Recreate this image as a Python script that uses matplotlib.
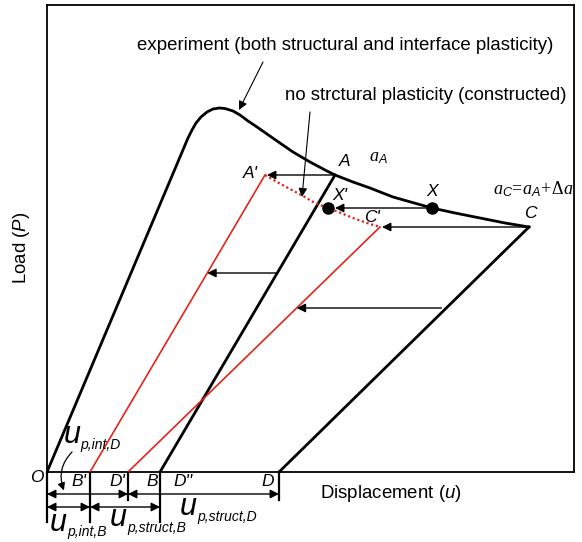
import numpy as np
import matplotlib
matplotlib.use("Agg")
import matplotlib.pyplot as plt
from matplotlib.patches import FancyArrowPatch

plt.rcParams["font.family"] = ["Liberation Sans", "DejaVu Sans"]
plt.rcParams["mathtext.fontset"] = "custom"
plt.rcParams["mathtext.rm"] = "Liberation Serif"
plt.rcParams["mathtext.it"] = "Liberation Serif:italic"
plt.rcParams["mathtext.sf"] = "Liberation Sans:italic"

# experimental load-displacement curve (u, P)
exp_u = [0, 141, 145, 149, 154, 160, 166, 172, 178, 186, 193, 201, 210, 220, 230, 246,
         263, 280, 288, 306, 323, 346, 385, 408, 433, 458, 482]
exp_P = [0, 334, 342, 349, 355, 360, 363, 364, 363.5, 361, 357, 351, 345, 338, 331, 320,
         310, 301, 297, 290, 284, 275, 264, 259, 254, 249, 245]

# key points
pt_A = (288, 297)
pt_X = (385, 264)
pt_C = (482, 245)
pt_B = (113, 0)
pt_D = (232, 0)
pt_A1 = (218, 297)   # A'
pt_X1 = (281, 264)   # X'
pt_C1 = (333, 245)   # C'
pt_B1 = (43, 0)      # B'
pt_D1 = (81, 0)      # D'

# constructed curve without structural plasticity
con_u = [218, 230, 243, 256, 268, 281, 294, 306, 320, 333]
con_P = [297, 290, 283, 276, 269, 264, 259, 254, 249, 245]

# unloading arrows between the black and red lines
mid_arrow_P = [199, 164]

RED = "#e3241b"

fig = plt.figure(figsize=(5.82, 5.42), dpi=100)
ax = fig.add_axes([47 / 582, 70 / 542, 527 / 582, 467 / 542])
ax.set_xlim(0, 527)
ax.set_ylim(0, 467)
ax.set_xticks([])
ax.set_yticks([])
for s in ax.spines.values():
    s.set_linewidth(1.3)

# lines
ax.plot(exp_u, exp_P, color="k", lw=2.0, solid_joinstyle="round", zorder=3)
ax.plot([pt_A[0], pt_B[0]], [pt_A[1], pt_B[1]], color="k", lw=2.0, zorder=3)
ax.plot([pt_C[0], pt_D[0]], [pt_C[1], pt_D[1]], color="k", lw=2.0, zorder=3)
ax.plot([pt_A1[0], pt_B1[0]], [pt_A1[1], pt_B1[1]], color=RED, lw=1.2, zorder=3)
ax.plot([pt_C1[0], pt_D1[0]], [pt_C1[1], pt_D1[1]], color=RED, lw=1.2, zorder=3)
ax.plot(con_u, con_P, color=RED, lw=1.6, ls=(0, (1, 1.2)), zorder=3)
ax.plot([pt_X[0], pt_X1[0]], [pt_X[1], pt_X1[1]], "o", color="k", ms=8, zorder=5)

arw = dict(arrowstyle="-|>", lw=1.0, color="k", mutation_scale=13, shrinkA=0, shrinkB=0)


def harrow(x0, x1, y):
    ax.annotate("", xy=(x1, y), xytext=(x0, y), arrowprops=arw, annotation_clip=False)


harrow(pt_A[0], pt_A1[0] + 2, pt_A[1])
harrow(pt_X[0], pt_X1[0] + 7, pt_X[1])
harrow(pt_C[0], pt_C1[0] + 2, pt_C[1])

for p in mid_arrow_P:
    if p > 180:
        x0 = np.interp(p, [pt_B[1], pt_A[1]], [pt_B[0], pt_A[0]])
        x1 = np.interp(p, [pt_B1[1], pt_A1[1]], [pt_B1[0], pt_A1[0]])
    else:
        x0 = np.interp(p, [pt_D[1], pt_C[1]], [pt_D[0], pt_C[0]]) - 5
        x1 = np.interp(p, [pt_D1[1], pt_C1[1]], [pt_D1[0], pt_C1[0]])
    harrow(x0, x1, p)

# callouts
ax.annotate("", xy=(192, 362), xytext=(216, 410), arrowprops=dict(arw, lw=0.8))
ax.text(298, 426, "experiment (both structural and interface plasticity)",
        ha="center", va="center", fontsize=13.4)
ax.annotate("", xy=(255, 275), xytext=(263, 360), arrowprops=dict(arw, lw=0.8))
ax.text(379, 376, "no strctural plasticity (constructed)",
        ha="center", va="center", fontsize=13.4)

# point labels
lab = dict(fontsize=12.5, style="italic", ha="center", va="center")
ax.text(203, 298, "A'", **lab)
ax.text(298, 311, "A", **lab)
ax.text(293, 276, "X'", **lab)
ax.text(385, 280, "X", **lab)
ax.text(325, 255, "C'", **lab)
ax.text(483, 259, "C", **lab)
ax.text(331, 314, r"$a_{\mathsf{A}}$", fontsize=13, ha="center", va="center")
ax.text(446, 283, r"$a_{\mathsf{C}}\!=\!a_{\mathsf{A}}\!+\!\Delta a$", fontsize=13,
        ha="left", va="center")

bot = dict(fontsize=12.5, style="italic", ha="center", va="center", clip_on=False)
ax.text(-10, -6, "O", **bot)
ax.text(32, -9, "B'", **bot)
ax.text(70, -9, "D'", **bot)
ax.text(105, -9, "B", **bot)
ax.text(136, -9, "D''", **bot)
ax.text(221, -9, "D", **bot)

# dimension lines under the axis
for x, depth in [(0, -50), (pt_B1[0], -50), (pt_D1[0], -28), (pt_B[0], -50), (pt_D[0], -28)]:
    ax.plot([x, x], [0, depth], color="k", lw=1.6, clip_on=False)

darw = dict(arrowstyle="<|-|>", lw=1.0, color="k", mutation_scale=13, shrinkA=0, shrinkB=0)
for x0, x1, y in [(0, pt_D1[0], -22), (pt_D1[0], pt_D[0], -22),
                  (0, pt_B1[0], -35), (pt_B1[0], pt_B[0], -35)]:
    ax.annotate("", xy=(x1, y), xytext=(x0, y), arrowprops=darw, annotation_clip=False)

ax.add_patch(FancyArrowPatch((27, 22), (18, -21), connectionstyle="arc3,rad=0.35",
                             arrowstyle="-|>", mutation_scale=11, lw=0.9, color="k",
                             clip_on=False))


def ulabel(x, y, sub, sx, sy):
    ax.text(x, y, "u", fontsize=22, style="italic", ha="center", va="center", clip_on=False)
    ax.text(sx, sy, sub, fontsize=10, style="italic", ha="left", va="center", clip_on=False)


ulabel(25, 37, "p,int,D", 33, 27)
ulabel(11, -51, "p,int,B", 20, -60)
ulabel(71, -46, "p,struct,B", 80, -56)
ulabel(141, -35, "p,struct,D", 150, -45)

# axis labels
ax.text(273, -22, r"Displacement ($\mathsf{u}$)", fontsize=13.4, ha="left", va="center",
        clip_on=False)
ax.text(-25, 224, r"Load ($\mathsf{P}$)", fontsize=13.4, rotation=90, ha="center",
        va="center", clip_on=False)

fig.savefig("out.png", dpi=100)
